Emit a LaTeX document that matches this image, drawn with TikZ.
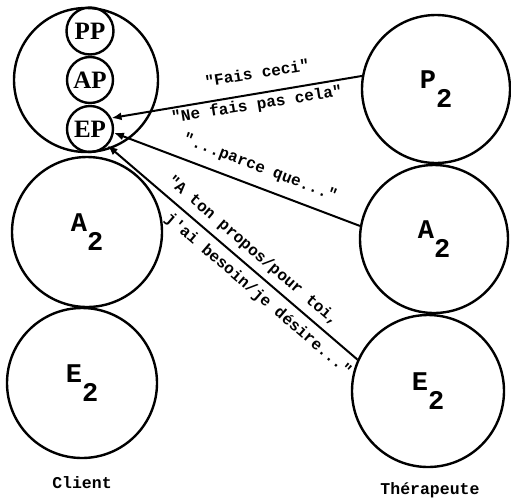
\documentclass[tikz,border=0pt]{standalone}
\usepackage{fontspec}
\setmainfont{Liberation Serif}
\newfontfamily\cour{Liberation Mono}
\usetikzlibrary{arrows.meta}
\tikzset{
  ring/.style={draw, circle, line width=2.4pt, inner sep=0pt},
  ego/.style={ring, font=\cour\bfseries\fontsize{27}{27}\selectfont},
  small/.style={ring, font=\bfseries\fontsize{25}{25}\selectfont},
  msg/.style={font=\cour\bfseries\fontsize{16}{16}\selectfont, inner sep=0pt},
  caption/.style={font=\cour\bfseries\fontsize{16.5}{16.5}\selectfont, inner sep=0pt},
  link/.style={line width=2pt, -{Latex[length=10pt,width=8pt]}}
}
\newcommand{\egolab}[1]{#1\raisebox{-19pt}{2}}
\begin{document}
\begin{tikzpicture}[x=1pt,y=-1pt]
\useasboundingbox (0,0) rectangle (511,499);
% client
\node[ring, minimum size=144pt] (Pc) at (86,80) {};
\node[small, minimum size=47pt] (PP) at (90,31) {PP};
\node[small, minimum size=46pt] (AP) at (90,80) {AP};
\node[small, minimum size=46pt] (EP) at (90,129) {EP};
\node[ego, minimum size=150pt] (Ac) at (87,232) {\egolab{A}};
\node[ego, minimum size=150pt] (Ec) at (82,383) {\egolab{E}};
\node[caption] (cl) at (82,483) {Client};
% therapist
\node[ego, minimum size=148pt] (Pt) at (436,89) {\egolab{P}};
\node[ego, minimum size=148pt] (At) at (434,239) {\egolab{A}};
\node[ego, minimum size=152pt] (Et) at (428,391) {\egolab{E}};
\node[caption] (th) at (430,490) {Thérapeute};
% transactions
\draw[link] (Pt.170.8) -- (EP.27.5);
\draw[link] (At.170) -- (EP.-9);
\draw[link] (Et.156.8) -- (EP.-43.5);
% messages
\node[msg, rotate=9.1] (m1) at (257,73) {"Fais ceci"};
\node[msg, rotate=9.1] (m2) at (257,105) {"Ne fais pas cela"};
\node[msg, rotate=-20.8] (m3) at (260,168) {"...parce que..."};
\node[msg, rotate=-40.7] (m4) at (253,251) {"A ton propos/pour toi,};
\node[msg, rotate=-40.7] (m5) at (258,295) {j'ai besoin/je désire..."};
\end{tikzpicture}
\end{document}
